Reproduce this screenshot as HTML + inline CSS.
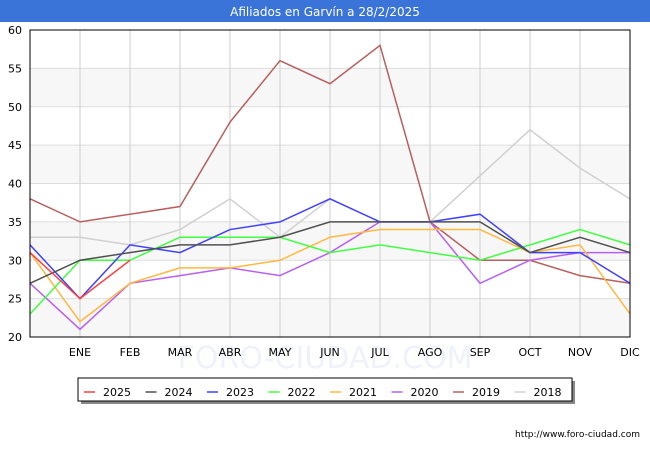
<!DOCTYPE html>
<html><head><meta charset="utf-8"><style>
body{margin:0;width:650px;height:450px;background:#fff;font-family:"DejaVu Sans","Liberation Sans",sans-serif;overflow:hidden}
</style></head><body>
<svg width="650" height="450" xmlns="http://www.w3.org/2000/svg">
<rect x="0" y="0" width="650" height="450" fill="#fff"/>
<rect x="0" y="0" width="650" height="22" fill="#3b74d9"/>
<text x="325" y="16" text-anchor="middle" font-size="12" fill="#fff">Afiliados en Garvín a 28/2/2025</text>
<g id="plot"></g>
<text x="325" y="368" text-anchor="middle" font-size="30" fill="#f0f2fb">FORO-CIUDAD.COM</text>
<g id="xlabels"></g>
<g id="legend"></g>
<text x="640" y="437" text-anchor="end" font-size="9" fill="#000">http://www.foro-ciudad.com</text>
</svg>
<script>
const months=["","ENE","FEB","MAR","ABR","MAY","JUN","JUL","AGO","SEP","OCT","NOV","DIC"];
const yTicks=[20,25,30,35,40,45,50,55,60];
const seriesNames=["2025","2024","2023","2022","2021","2020","2019","2018"];
const seriesColors=["#ff4040","#505050","#4040ff","#40ff40","#ffb840","#b860f0","#b86060","#d0d0d0"];
const s2025=[31,25,30];
const s2024=[27,30,31,32,32,33,35,35,35,35,31,33,31];
const s2023=[32,25,32,31,34,35,38,35,35,36,31,31,27];
const s2022=[23,30,30,33,33,33,31,32,31,30,32,34,32];
const s2021=[31,22,27,29,29,30,33,34,34,34,31,32,23];
const s2020=[27,21,27,28,29,28,31,35,35,27,30,31,31];
const s2019=[38,35,36,37,48,56,53,58,35,30,30,28,27];
const s2018=[33,33,32,34,38,33,38,35,35,41,47,42,38];
const seriesData=[s2025,s2024,s2023,s2022,s2021,s2020,s2019,s2018];
const NS="http://www.w3.org/2000/svg";
const X0=30,X1=630,Y0=337,Y1=30;
const xS=i=>X0+i*(X1-X0)/(months.length-1);
const yS=v=>Y0-(v-20)*(Y0-Y1)/40;
function mk(t,a,p){const e=document.createElementNS(NS,t);for(const k in a)e.setAttribute(k,a[k]);p.appendChild(e);return e;}
const plot=document.getElementById('plot');
const xl=document.getElementById('xlabels');
for(let i=0;i<yTicks.length-1;i++){
  if(i%2===0){const r=mk('rect',{x:X0,y:yS(yTicks[i+1]),width:X1-X0,height:yS(yTicks[i])-yS(yTicks[i+1]),fill:'#f7f7f7'},plot);
  
  }
}
yTicks.forEach(v=>{
  const l=mk('line',{x1:X0,x2:X1,y1:yS(v),y2:yS(v),stroke:'#dddddd','stroke-width':1},plot);
  
  
  const t=mk('text',{x:X0-8,y:yS(v)+4,'text-anchor':'end','font-size':11,fill:'#000'},plot);t.textContent=v;
  
  
});
months.forEach((m,i)=>{
  const l=mk('line',{x1:xS(i),x2:xS(i),y1:Y1,y2:Y0,stroke:'#cccccc','stroke-width':1},plot);
  
  
  if(m){const t=mk('text',{x:xS(i),y:356,'text-anchor':'middle','font-size':11,fill:'#000'},xl);t.textContent=m;
  
  }
});
for(let s=seriesData.length-1;s>=0;s--){
  const pts=seriesData[s].map((v,i)=>xS(i)+','+yS(v)).join(' ');
  const p=mk('polyline',{points:pts,fill:'none',stroke:seriesColors[s],'stroke-width':1.5},plot);
  
  
}
const ax=mk('path',{d:`M${X0},${Y1} V${Y0} H${X1} V${Y1} Z`,fill:'none',stroke:'#000','stroke-width':1},plot);


const lg=document.getElementById('legend');
mk('rect',{x:81,y:381,width:494,height:23,fill:'#888'},lg);
const box=mk('rect',{x:78,y:378,width:494,height:23,fill:'#fff',stroke:'#000','stroke-width':1},lg);


seriesNames.forEach((n,i)=>{
  const x=84+i*61.5;
  const l=mk('line',{x1:x,x2:x+11,y1:392,y2:392,stroke:seriesColors[i],'stroke-width':1.5},lg);
  
  
  const t=mk('text',{x:x+19,y:396,'font-size':11,fill:'#000'},lg);t.textContent=n;
  
  
});
</script>
</body></html>
